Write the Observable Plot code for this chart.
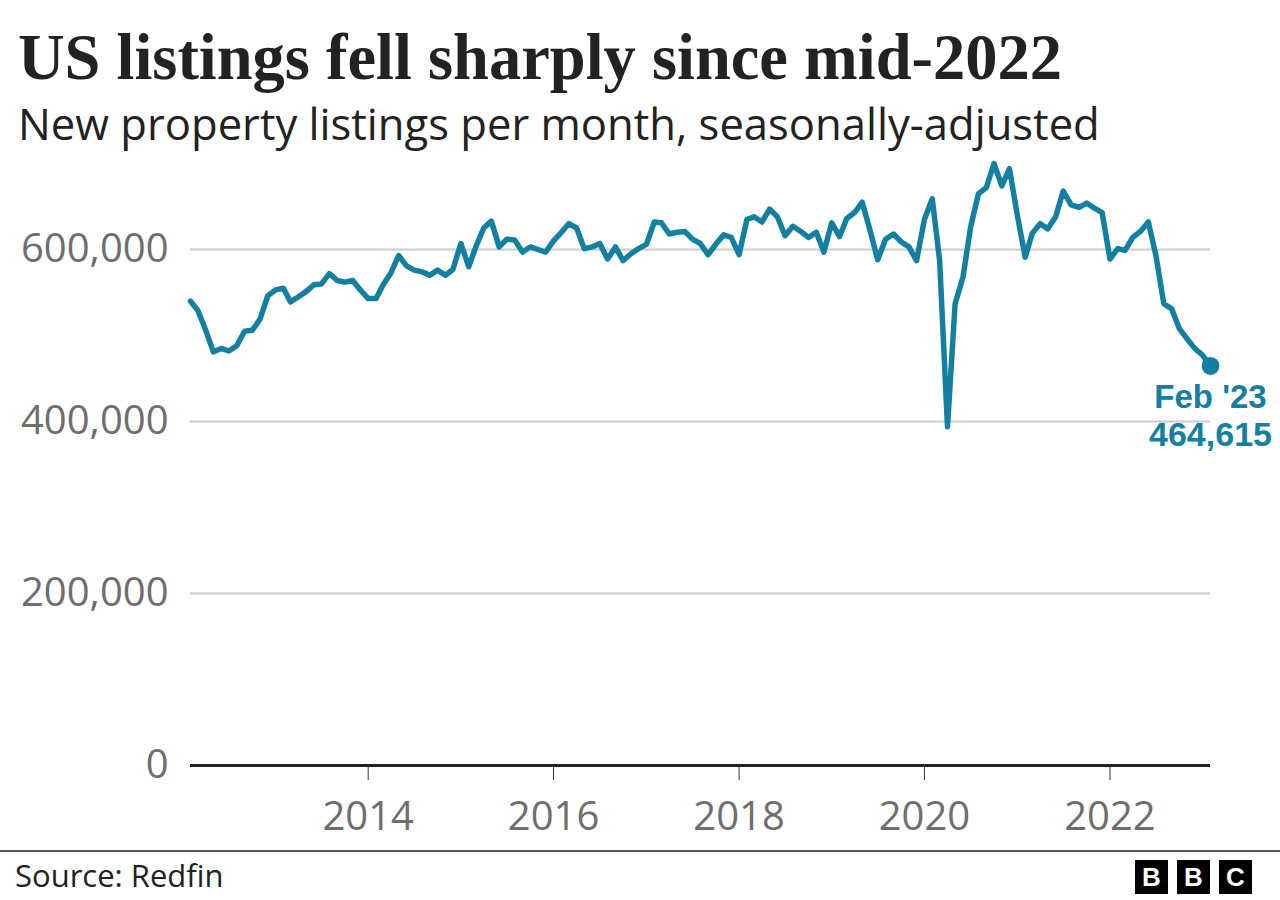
<!DOCTYPE html>
<html><head><meta charset="utf-8">
<script src="https://cdn.jsdelivr.net/npm/d3@7"></script>
<script src="https://cdn.jsdelivr.net/npm/@observablehq/plot@0.6"></script>
<style>
body{margin:0;background:#fff;width:1280px;height:900px;position:relative;overflow:hidden;font-family:"Open Sans",sans-serif}
#title{position:absolute;left:18px;font-family:"Liberation Serif",serif;font-weight:bold;color:#222;white-space:nowrap}
#subtitle{position:absolute;left:18px;font-family:"Open Sans",sans-serif;color:#222;white-space:nowrap}
#chart{position:absolute;left:0;top:150px}
#rule{position:absolute;left:0;top:850px;width:1280px;height:2px;background:#555}
#source{position:absolute;left:15px;top:860px;font-size:31px;line-height:31px;color:#222;white-space:nowrap}
#logo{position:absolute;left:1135px;top:860px;display:flex;gap:9px}
#logo div{width:33px;height:34px;background:#000;color:#fff;font-family:"Liberation Sans",sans-serif;font-weight:bold;font-size:26px;line-height:34px;text-align:center}
</style></head>
<body>
<div id="title"><span>US listings fell sharply since mid-2022</span></div>
<div id="subtitle"><span>New property listings per month, seasonally-adjusted</span></div>
<div id="chart"></div>
<div id="rule"></div>
<div id="source">Source: Redfin</div>
<div id="logo"><div>B</div><div>B</div><div>C</div></div>
<script>
// Monthly new listings, Feb 2012 – Feb 2023 (seasonally adjusted)
const firstMonth = "2012-02";
const lastMonth = "2023-02";
const listings = [
  540000, 529000, 506000, 481000, 485000, 482000, 488000, 505000, 506000, 519000, 546000,
  553000, 555000, 539000, 545000, 551000, 559000, 560000, 572000, 564000, 562000, 564000, 553000, 543000,
  543000, 559000, 573000, 593000, 581000, 576000, 574000, 570000, 576000, 570000, 577000, 607000,
  580000, 603000, 625000, 633000, 603000, 612000, 611000, 597000, 603000, 600000, 597000, 610000,
  620000, 630000, 625000, 601000, 603000, 607000, 589000, 603000, 587000, 595000, 601000, 606000,
  632000, 631000, 618000, 620000, 621000, 612000, 607000, 594000, 606000, 617000, 614000, 594000,
  635000, 638000, 632000, 647000, 638000, 616000, 627000, 621000, 614000, 620000, 597000, 631000,
  615000, 636000, 643000, 655000, 622000, 588000, 612000, 618000, 609000, 603000, 587000, 635000,
  659000, 587000, 394000, 537000, 568000, 626000, 665000, 672000, 700000, 674000, 694000, 640000,
  591000, 619000, 630000, 624000, 638000, 668000, 652000, 649000, 654000, 648000, 643000, 589000,
  601000, 599000, 614000, 621000, 632000, 593000, 537000, 531000, 508000, 496000, 485000, 477000,
  464615
];
const yTicks = [0, 200000, 400000, 600000];
const xTickYears = ["2014", "2016", "2018", "2020", "2022"];

const parseMonth = d3.utcParse("%Y-%m");
const start = parseMonth(firstMonth);
const end = parseMonth(lastMonth);
const months = d3.utcMonth.range(start, d3.utcMonth.offset(end, 1));
const data = months.map((date, i) => ({date, value: listings[i]}));
const last = data[data.length - 1];
const xTicks = xTickYears.map(y => d3.utcParse("%Y")(y));

const chart = Plot.plot({
  width: 1280, height: 700,
  marginTop: 13, marginBottom: 85, marginLeft: 190, marginRight: 70,
  style: {fontFamily: "'Open Sans', sans-serif", fontSize: "40px", background: "transparent", overflow: "visible"},
  x: {type: "utc", domain: [start, end], label: null},
  y: {domain: [0, 700000], label: null},
  marks: [
    Plot.gridY(yTicks.filter(d => d > 0), {stroke: "#cccccc", strokeOpacity: 1, strokeWidth: 2}),
    Plot.axisY(yTicks, {tickSize: 0, tickPadding: 22, tickFormat: d3.format(","), fill: "#6e6e6e", fontSize: 40, label: null}),
    Plot.axisX(xTicks, {tickSize: 15, tickPadding: 21, tickFormat: d3.utcFormat("%Y"), stroke: "#333", fill: "#6e6e6e", fontSize: 40, label: null}),
    Plot.ruleY([0], {stroke: "#222", strokeWidth: 3}),
    Plot.lineY(data, {x: "date", y: "value", stroke: "#1380A1", strokeWidth: 5.5, strokeLinejoin: "round"}),
    Plot.dot([last], {x: "date", y: "value", r: 9, fill: "#1380A1"}),
    Plot.text([last], {x: "date", y: "value", text: d => d3.utcFormat("%b '%y")(d.date),
      dy: 32, fontSize: 33, fontWeight: "bold", fontFamily: "'Liberation Sans', sans-serif", fill: "#1380A1"}),
    Plot.text([last], {x: "date", y: "value", text: d => d3.format(",")(d.value),
      dy: 69, fontSize: 34, fontWeight: "bold", fontFamily: "'Liberation Sans', sans-serif", fill: "#1380A1"})
  ]
});
document.getElementById("chart").appendChild(chart);

// fit heading widths to the reference layout
function fit(id, targetW, baseline, k, startSize) {
  const el = document.getElementById(id);
  const span = el.querySelector("span");
  el.style.fontSize = startSize + "px";
  const w = span.getBoundingClientRect().width;
  const f = startSize * targetW / w;
  el.style.fontSize = f + "px";
  el.style.lineHeight = f + "px";
  el.style.top = (baseline - k * f) + "px";
}
fit("title", 1044, 80, 0.8375, 58);
fit("subtitle", 1082, 141, 0.888, 40);
</script>
</body></html>
